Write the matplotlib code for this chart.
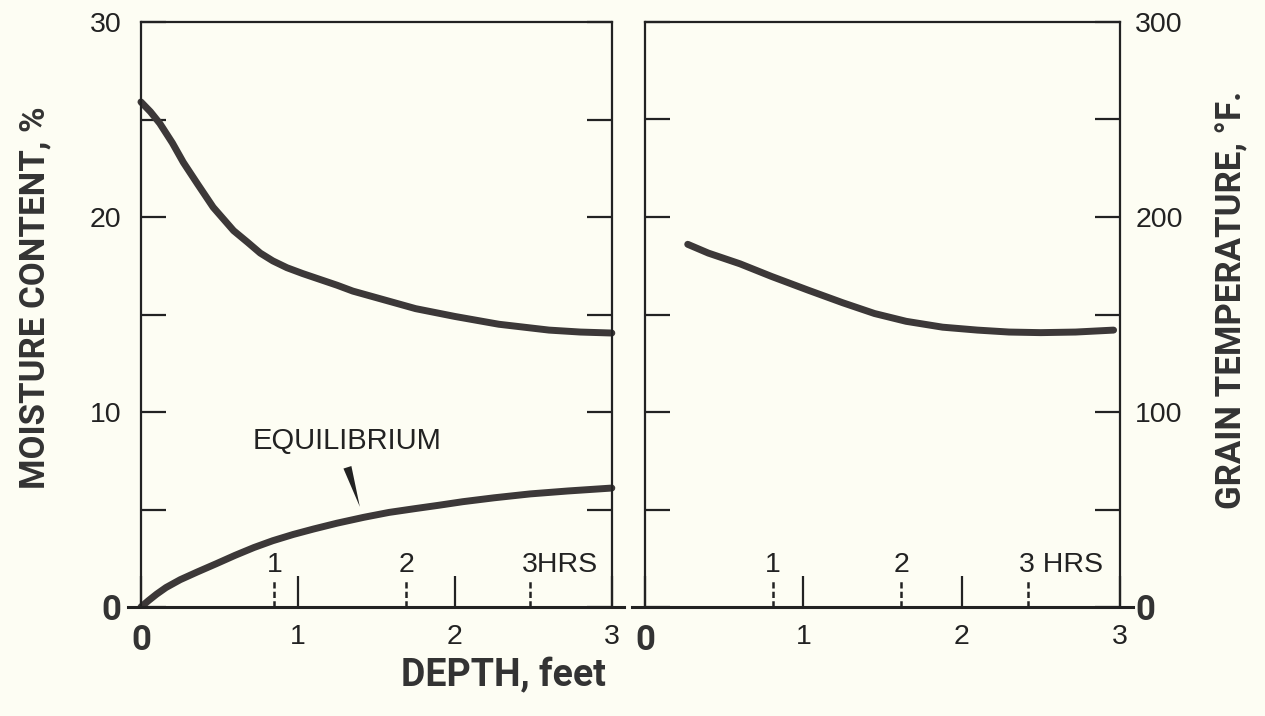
import numpy as np
import matplotlib
matplotlib.use("Agg")
import matplotlib.pyplot as plt

# moisture content vs depth (left panel)
depth_moist = [0.0, 0.06, 0.12, 0.2, 0.27, 0.36, 0.46, 0.59, 0.68, 0.76, 0.84, 0.93,
               1.03, 1.14, 1.25, 1.35, 1.55, 1.75, 2.0, 2.28, 2.6, 2.8, 3.0]
moisture = [25.9, 25.4, 24.8, 23.8, 22.8, 21.7, 20.5, 19.3, 18.7, 18.15, 17.75, 17.4,
            17.1, 16.8, 16.5, 16.2, 15.75, 15.3, 14.9, 14.5, 14.2, 14.1, 14.05]

depth_equil = [0.0, 0.05, 0.1, 0.16, 0.25, 0.36, 0.48, 0.6, 0.72, 0.84, 0.97, 1.1,
               1.25, 1.42, 1.58, 1.75, 1.9, 2.05, 2.25, 2.48, 2.72, 3.0]
equilibrium = [0.0, 0.34, 0.66, 1.0, 1.4, 1.8, 2.22, 2.65, 3.05, 3.4, 3.72, 4.0,
               4.3, 4.6, 4.85, 5.05, 5.22, 5.4, 5.6, 5.8, 5.95, 6.1]

# grain temperature vs depth (right panel)
depth_temp = [0.27, 0.4, 0.6, 0.8, 1.03, 1.25, 1.45, 1.65, 1.88, 2.1, 2.3, 2.5,
              2.72, 2.96]
temperature = [186, 181.5, 176, 169.5, 162.5, 156, 150.5, 146.5, 143.5, 142,
               141, 140.7, 141, 142]

# elapsed-time marks along the depth axis
hours_left = [0.85, 1.69, 2.48]
hours_right = [0.81, 1.62, 2.42]
hour_labels = ["1", "2", "3"]

moist_ticks = [0, 5, 10, 15, 20, 25, 30]
moist_ticklabels = ["0", "", "10", "", "20", "", "30"]
temp_ticks = [0, 50, 100, 150, 200, 250, 300]
temp_ticklabels = ["0", "", "100", "", "200", "", "300"]
depth_ticks = [0, 1, 2, 3]
depth_ticklabels = ["0", "1", "2", "3"]

BG = "#fdfdf3"
INK = "#222222"
CURVE = "#3c3838"
BOLD = ["Roboto", "DejaVu Sans"]
PLAIN = ["Liberation Sans", "DejaVu Sans"]

fig = plt.figure(figsize=(12.65, 7.16), dpi=100, facecolor=BG)

pad = 0.08
ax1 = fig.add_axes([128.4 / 1265, 1 - 607 / 716, 496 / 1265, 585 / 716])
ax2 = fig.add_axes([632.3 / 1265, 1 - 607 / 716, 500.3 / 1265, 585 / 716])


def bold_zero(label):
    label.set_fontweight("bold")
    label.set_family(BOLD)
    label.set_fontsize(25)
    label.set_color("#333333")


def style_panel(ax, ymax, yticks, yticklabels, hours, gap):
    ax.set_facecolor("none")
    ax.set_xlim(-pad, 3 + pad)
    ax.set_ylim(0, ymax)
    ax.spines["left"].set_position(("data", 0))
    ax.spines["right"].set_position(("data", 3))
    ax.spines["top"].set_bounds(0, 3)
    for s in ax.spines.values():
        s.set_color(INK)
        s.set_linewidth(1.6)
    ax.spines["bottom"].set_linewidth(2.2)
    ax.tick_params(axis="y", direction="in", length=18, width=1.6, color=INK,
                   left=True, right=True, labelsize=20.5, labelfontfamily=PLAIN,
                   labelcolor=INK)
    ax.tick_params(axis="x", direction="in", length=22, width=1.6, color=INK,
                   pad=12, labelsize=20.5, labelfontfamily=PLAIN, labelcolor=INK)
    ax.set_yticks(yticks, yticklabels)
    ax.set_xticks(depth_ticks, depth_ticklabels)
    bold_zero(ax.get_xticklabels()[0])
    # dashed elapsed-time markers
    h = ymax * 0.047
    ax.vlines(hours, 0, h, colors=INK, linewidth=1.8, linestyles=(0, (2.5, 1.3)))
    for hx, lab in zip(hours[:2], hour_labels[:2]):
        ax.text(hx, h * 1.05, lab, ha="center", va="bottom", fontsize=20.5,
                family=PLAIN, color=INK)
    ax.text(hours[2] - 0.055, h * 1.05, hour_labels[2] + gap + "HRS", ha="left",
            va="bottom", fontsize=20.5, family=PLAIN, color=INK)


style_panel(ax1, 30, moist_ticks, moist_ticklabels, hours_left, "")
style_panel(ax2, 300, temp_ticks, temp_ticklabels, hours_right, " ")

ax1.tick_params(axis="y", labelleft=True, labelright=False, pad=14)
bold_zero(ax1.get_yticklabels()[0])

ax2.tick_params(axis="y", labelleft=False, labelright=True, pad=11)
bold_zero(ax2.get_yticklabels()[0])

ax1.plot(depth_moist, moisture, color=CURVE, linewidth=5, solid_capstyle="round",
         solid_joinstyle="round")
ax1.plot(depth_equil, equilibrium, color=CURVE, linewidth=5, solid_capstyle="round",
         solid_joinstyle="round")
ax2.plot(depth_temp, temperature, color=CURVE, linewidth=5, solid_capstyle="round",
         solid_joinstyle="round")

ax1.text(1.31, 8.5, "EQUILIBRIUM", ha="center", va="center", fontsize=21,
         family=PLAIN, color=INK)
ax1.annotate("", xy=(1.40, 5.0), xytext=(1.31, 7.3),
             arrowprops=dict(arrowstyle="wedge,tail_width=0.6,shrink_factor=0.5",
                             color=INK, lw=0))

fig.text(35 / 1265, 1 - 298 / 716, "MOISTURE CONTENT, %", rotation=90,
         ha="center", va="center", fontsize=25, fontweight="bold", family=BOLD,
         color="#333333")
fig.text(1232 / 1265, 1 - 300 / 716, "GRAIN TEMPERATURE, °F.", rotation=90,
         ha="center", va="center", fontsize=25, fontweight="bold", family=BOLD,
         color="#333333")
fig.text(503 / 1265, 1 - 676 / 716, "DEPTH, feet", ha="center", va="center",
         fontsize=27, fontweight="bold", family=BOLD, color="#333333")

fig.savefig("out.png", dpi=100, facecolor=BG)
